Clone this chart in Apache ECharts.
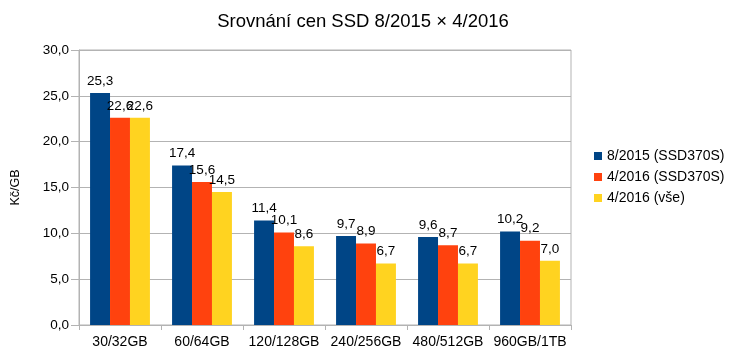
<!DOCTYPE html>
<html><head><meta charset="utf-8">
<script src="https://cdn.jsdelivr.net/npm/echarts@6/dist/echarts.min.js"></script>
<style>html,body{margin:0;padding:0;background:#fff}#c{width:732px;height:359px}</style>
</head><body><div id="c"></div>
<script>
const categories = ['30/32GB','60/64GB','120/128GB','240/256GB','480/512GB','960GB/1TB'];
const s2015 = [25.3, 17.4, 11.4, 9.7, 9.6, 10.2];
const s2016 = [22.6, 15.6, 10.1, 8.9, 8.7, 9.2];
const s2016all = [22.6, 14.5, 8.6, 6.7, 6.7, 7.0];
const seriesNames = ['8/2015 (SSD370S)','4/2016 (SSD370S)','4/2016 (vše)'];
const colors = ['#004586','#ff420e','#ffd320'];
const fmt = v => v.toFixed(1).replace('.', ',');
const font = 'Liberation Sans';
const chart = echarts.init(document.getElementById('c'));
const mk = (name, data, i) => ({
  name, type: 'bar', data, barGap: '0%', barCategoryGap: '27%',
  itemStyle: {color: colors[i]},
  label: {show: true, position: 'top', distance: 5, color: '#000', fontFamily: font, fontSize: 13.5,
    formatter: p => fmt(p.value)}
});
chart.setOption({
  animation: false,
  title: {text: 'Srovnání cen SSD 8/2015 × 4/2016', left: 358, top: 7, textAlign: 'center',
    textStyle: {fontFamily: font, fontSize: 18.5, fontWeight: 'normal', color: '#000'}},
  legend: {orient: 'vertical', left: 589, top: 144, itemWidth: 8, itemHeight: 8, itemGap: 7,
    icon: 'rect', textStyle: {fontFamily: font, fontSize: 14, color: '#000'}, data: seriesNames},
  grid: {left: 79, right: 161, top: 50, bottom: 34, show: true, borderColor: '#b3b3b3', borderWidth: 1},
  xAxis: {type: 'category', data: categories,
    axisLine: {lineStyle: {color: '#b3b3b3'}},
    axisTick: {show: true, length: 5, lineStyle: {color: '#b3b3b3'}},
    axisLabel: {color: '#000', fontFamily: font, fontSize: 14, margin: 10, interval: 0},
    splitLine: {show: false}},
  yAxis: {type: 'value', min: 0, max: 30, interval: 5, name: 'Kč/GB', nameLocation: 'middle', nameGap: 57,
    nameTextStyle: {fontFamily: font, fontSize: 12.5, color: '#000'},
    axisLine: {show: true, lineStyle: {color: '#b3b3b3'}},
    axisTick: {show: true, length: 8, lineStyle: {color: '#b3b3b3'}},
    axisLabel: {color: '#000', fontFamily: font, fontSize: 13.5, margin: 10, formatter: v => fmt(v)},
    splitLine: {show: true, lineStyle: {color: '#b3b3b3'}}},
  series: [mk(seriesNames[0], s2015, 0), mk(seriesNames[1], s2016, 1), mk(seriesNames[2], s2016all, 2)]
});
</script></body></html>
